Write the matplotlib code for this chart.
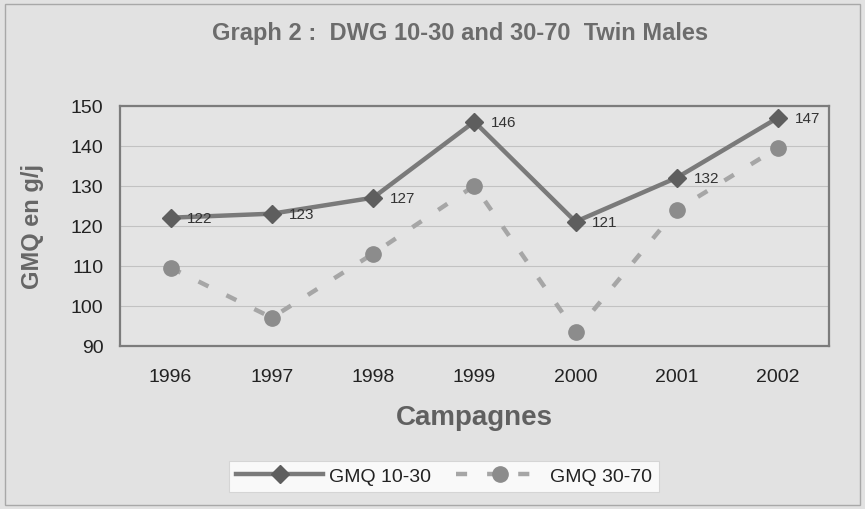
import matplotlib
matplotlib.use("Agg")
import matplotlib.pyplot as plt
from matplotlib.lines import Line2D
from matplotlib.patches import Rectangle

years = ["1996", "1997", "1998", "1999", "2000", "2001", "2002"]
gmq_10_30 = [122, 123, 127, 146, 121, 132, 147]
gmq_30_70 = [109.5, 97, 113, 130, 93.5, 124, 139.5]
y_ticks = [90, 100, 110, 120, 130, 140, 150]

plt.rcParams["font.family"] = ["Liberation Sans", "DejaVu Sans"]

bg = "#e2e2e2"
fig = plt.figure(figsize=(8.65, 5.1), dpi=100, facecolor=bg)
ax = fig.add_axes([0.1387, 0.3202, 0.8193, 0.4706])
ax.set_facecolor("#e4e4e4")

# outer frame of the chart area
fig.patches.append(Rectangle((0.006, 0.008), 0.988, 0.982, transform=fig.transFigure,
                             fill=False, edgecolor="#a8a8a8", linewidth=1.0))

x = list(range(len(years)))
ax.plot(x, gmq_30_70, color="#a6a6a6", linewidth=3.2, linestyle=(0, (2.5, 4.5)),
        marker="o", markersize=11, markerfacecolor="#8c8c8c", markeredgecolor="#8c8c8c",
        zorder=3)
ax.plot(x, gmq_10_30, color="#7a7a7a", linewidth=3.2, marker="D", markersize=9.5,
        markerfacecolor="#5e5e5e", markeredgecolor="#5e5e5e", zorder=4)

for xi, v in zip(x, gmq_10_30):
    ax.annotate(f"{v:g}", (xi, v), xytext=(12, 0), textcoords="offset points",
                ha="left", va="center", fontsize=11, color="#333333", zorder=5)

ax.set_xlim(-0.5, len(years) - 0.5)
ax.set_ylim(90, 150)
ax.set_yticks(y_ticks)
ax.set_xticks(x)
ax.set_xticklabels(years)
ax.tick_params(axis="both", length=0, labelsize=14, labelcolor="#222222")
ax.tick_params(axis="x", pad=16)
ax.tick_params(axis="y", pad=12)
ax.grid(axis="y", color="#c2c2c2", linewidth=0.8)
ax.set_axisbelow(True)
for s in ax.spines.values():
    s.set_color("#7c7c7c")
    s.set_linewidth(1.6)

ax.set_xlabel("Campagnes", fontsize=20, fontweight="bold", color="#606060", labelpad=14)
ax.set_ylabel("GMQ en g/j", fontsize=17, fontweight="bold", color="#666666", labelpad=19)

fig.text(0.532, 0.935, "Graph 2 :  DWG 10-30 and 30-70  Twin Males", ha="center",
         va="center", fontsize=17, fontweight="bold", color="#6c6c6c")

handles = [
    Line2D([], [], color="#7a7a7a", linewidth=3.2, marker="D", markersize=9.5,
           markerfacecolor="#5e5e5e", markeredgecolor="#5e5e5e"),
    Line2D([], [], color="#a6a6a6", linewidth=3.2, linestyle=(0, (2.5, 4.5)),
           marker="o", markersize=11, markerfacecolor="#8c8c8c", markeredgecolor="#8c8c8c"),
]
leg = fig.legend(handles, ["GMQ 10-30", "GMQ 30-70"], loc="center",
                 bbox_to_anchor=(0.513, 0.064), ncol=2, fontsize=14, frameon=True,
                 fancybox=False, handlelength=4.5, columnspacing=1.3, handletextpad=0.3,
                 borderpad=0.35)
leg.get_frame().set_facecolor("white")
leg.get_frame().set_edgecolor("#d0d0d0")
leg.get_frame().set_linewidth(0.8)
for t in leg.get_texts():
    t.set_color("#222222")

fig.savefig("out.png", dpi=100, facecolor=bg)
